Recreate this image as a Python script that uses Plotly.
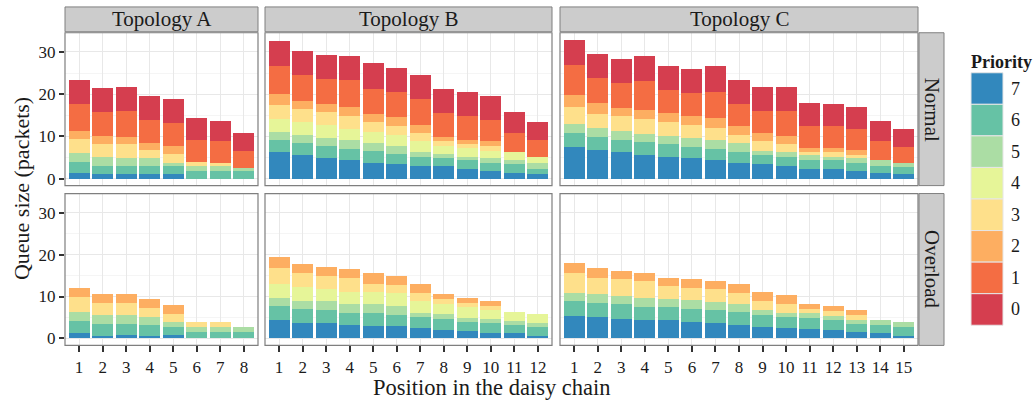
import plotly.graph_objects as go

# ---------------- data (segment heights, packets) ----------------
PRIORITIES = [7, 6, 5, 4, 3, 2, 1, 0]
COLORS = {0: "#D53E4F", 1: "#F46D43", 2: "#FDAE61", 3: "#FEE08B",
          4: "#E6F598", 5: "#ABDDA4", 6: "#66C2A5", 7: "#3288BD"}

POS_A = [1, 2, 3, 4, 5, 6, 7, 8]
POS_B = [1, 2, 3, 4, 5, 6, 7, 8, 9, 10, 11, 12]
POS_C = [1, 2, 3, 4, 5, 6, 7, 8, 9, 10, 11, 12, 13, 14, 15]

# Topology A - Normal
A_N_P7 = [1.3, 1.0, 1.0, 1.0, 1.0, 0, 0, 0]
A_N_P6 = [2.6, 2.1, 1.9, 1.9, 1.9, 1.9, 1.9, 1.7]
A_N_P5 = [2.1, 2.1, 2.1, 2.1, 0.9, 1.0, 1.0, 0.9]
A_N_P4 = [0, 0, 0, 0, 0, 0, 0, 0]
A_N_P3 = [3.5, 3.1, 3.3, 1.9, 2.1, 1.1, 0.9, 0]
A_N_P2 = [1.9, 1.9, 1.6, 1.6, 1.9, 0, 0, 0]
A_N_P1 = [6.3, 5.6, 6.1, 5.4, 5.4, 5.2, 5.1, 4.0]
A_N_P0 = [5.6, 5.6, 5.6, 5.6, 5.6, 5.1, 4.7, 4.2]

# Topology A - Overload
A_O_P7 = [1.2, 0.7, 0.9, 0.7, 0.9, 0, 0, 0]
A_O_P6 = [3.0, 2.8, 2.6, 2.6, 1.9, 1.6, 1.6, 1.6]
A_O_P5 = [2.1, 2.1, 2.1, 1.9, 1.2, 1.2, 1.2, 1.2]
A_O_P4 = [0, 0, 0, 0, 0, 0, 0, 0]
A_O_P3 = [3.5, 2.8, 2.8, 2.1, 1.9, 1.2, 1.2, 0]
A_O_P2 = [2.2, 2.1, 2.1, 2.1, 2.1, 0, 0, 0]
A_O_P1 = [0, 0, 0, 0, 0, 0, 0, 0]
A_O_P0 = [0, 0, 0, 0, 0, 0, 0, 0]

# Topology B - Normal
B_N_P7 = [6.2, 5.5, 4.8, 4.3, 3.8, 3.4, 3.1, 2.9, 2.2, 1.7, 1.3, 1.0]
B_N_P6 = [3.0, 3.0, 3.0, 2.8, 2.8, 2.5, 2.1, 1.9, 2.1, 1.9, 2.1, 1.4]
B_N_P5 = [1.9, 1.9, 1.9, 2.1, 1.9, 1.9, 1.0, 1.1, 0.9, 1.2, 0.9, 1.2]
B_N_P4 = [3.0, 3.0, 3.0, 2.6, 2.6, 2.6, 2.6, 1.9, 2.1, 1.8, 2.1, 1.6]
B_N_P3 = [3.3, 3.1, 3.1, 3.0, 2.3, 2.1, 1.9, 1.0, 1.0, 1.2, 0, 0]
B_N_P2 = [2.6, 1.9, 1.9, 2.2, 1.9, 2.1, 2.1, 1.1, 0.9, 1.0, 0, 0]
B_N_P1 = [6.6, 6.1, 6.0, 6.3, 5.9, 5.9, 6.1, 5.6, 5.6, 5.1, 4.5, 4.0]
B_N_P0 = [6.1, 5.8, 5.7, 5.8, 6.1, 5.6, 5.6, 5.7, 5.7, 5.6, 4.9, 4.2]

# Topology B - Overload
B_O_P7 = [4.5, 3.8, 3.8, 3.3, 3.0, 3.0, 2.6, 2.1, 1.9, 1.4, 1.2, 0.7]
B_O_P6 = [3.2, 3.2, 3.0, 2.8, 3.1, 2.6, 2.6, 2.6, 2.1, 2.4, 2.1, 2.1]
B_O_P5 = [1.9, 1.9, 2.1, 2.1, 2.1, 2.1, 0.9, 1.2, 0.9, 0.9, 0.9, 1.0]
B_O_P4 = [3.3, 3.3, 2.8, 3.0, 3.0, 3.1, 2.8, 2.3, 2.6, 2.1, 2.1, 2.1]
B_O_P3 = [4.0, 3.5, 3.3, 3.3, 1.9, 1.9, 1.9, 1.2, 0.9, 0.9, 0, 0]
B_O_P2 = [2.6, 2.1, 2.1, 2.1, 2.4, 2.1, 2.1, 1.1, 1.2, 1.2, 0, 0]
B_O_P1 = [0, 0, 0, 0, 0, 0, 0, 0, 0, 0, 0, 0]
B_O_P0 = [0, 0, 0, 0, 0, 0, 0, 0, 0, 0, 0, 0]

# Topology C - Normal
C_N_P7 = [7.6, 6.9, 6.4, 5.7, 5.2, 4.8, 4.3, 3.8, 3.4, 2.9, 2.4, 2.4, 1.7, 1.3, 1.0]
C_N_P6 = [3.3, 3.0, 2.8, 3.0, 3.1, 2.8, 2.8, 2.6, 2.3, 2.3, 1.9, 1.9, 1.9, 1.8, 1.7]
C_N_P5 = [2.1, 2.1, 2.1, 1.9, 1.9, 2.1, 2.1, 2.1, 0.9, 1.0, 1.2, 0.9, 1.2, 1.2, 0.9]
C_N_P4 = [0, 0, 0, 0, 0, 0, 0, 0, 0, 0, 0, 0, 0, 0, 0]
C_N_P3 = [4.0, 3.3, 3.5, 3.5, 3.2, 3.0, 2.8, 1.9, 2.2, 2.1, 0.9, 1.2, 0.9, 0, 0]
C_N_P2 = [2.8, 2.6, 1.9, 2.1, 2.1, 2.1, 2.4, 2.1, 1.9, 1.9, 0.9, 0.9, 1.2, 0, 0]
C_N_P1 = [7.2, 5.9, 5.9, 7.0, 5.4, 5.4, 6.1, 5.2, 5.4, 5.8, 5.2, 5.2, 4.9, 4.7, 4.0]
C_N_P0 = [5.9, 5.8, 5.8, 5.8, 5.7, 5.7, 6.1, 5.6, 5.6, 5.6, 5.4, 5.2, 5.2, 4.7, 4.2]

# Topology C - Overload
C_O_P7 = [5.4, 5.2, 4.7, 4.5, 4.5, 4.0, 3.8, 3.3, 2.8, 2.6, 2.3, 2.1, 1.6, 1.2, 0.7]
C_O_P6 = [3.5, 3.2, 3.5, 3.0, 3.0, 3.0, 3.0, 3.0, 2.8, 2.6, 2.6, 2.4, 1.9, 1.9, 2.1]
C_O_P5 = [1.9, 2.1, 1.9, 2.1, 1.9, 2.1, 1.9, 1.9, 1.2, 0.9, 1.2, 0.9, 1.0, 1.2, 1.2]
C_O_P4 = [0, 0, 0, 0, 0, 0, 0, 0, 0, 0, 0, 0, 0, 0, 0]
C_O_P3 = [4.7, 4.0, 4.0, 4.0, 3.0, 2.9, 3.0, 2.6, 2.1, 2.1, 0.9, 1.2, 1.1, 0, 0]
C_O_P2 = [2.5, 2.4, 2.1, 2.1, 2.1, 2.1, 2.1, 2.1, 2.1, 2.1, 1.2, 1.1, 1.2, 0, 0]
C_O_P1 = [0, 0, 0, 0, 0, 0, 0, 0, 0, 0, 0, 0, 0, 0, 0]
C_O_P0 = [0, 0, 0, 0, 0, 0, 0, 0, 0, 0, 0, 0, 0, 0, 0]

TOPOLOGIES = ["Topology A", "Topology B", "Topology C"]
CONDITIONS = ["Normal", "Overload"]
Y_TICKS = [0, 10, 20, 30]
X_TITLE = "Position in the daisy chain"
Y_TITLE = "Queue size (packets)"
LEGEND_TITLE = "Priority"

# ---------------- assemble panels ----------------
g = globals()
positions = {"A": POS_A, "B": POS_B, "C": POS_C}
panels = []
for r, cond in enumerate(["N", "O"]):
    for c, topo in enumerate(["A", "B", "C"]):
        series = {p: g[f"{topo}_{cond}_P{p}"] for p in PRIORITIES}
        panels.append((r, c, positions[topo], series))

# ---------------- layout geometry (pixels) ----------------
W, H = 1036, 401
FONT = "Liberation Serif"
TXT = "#1a1a1a"
col_x = [(65, 258), (265, 552), (560, 918)]
row_y = [(33, 187), (195, 348)]
strip_top = (7, 32)
strip_right = (919, 944)


def px(x):
    return x / W


def py(y):
    return 1 - y / H


fig = go.Figure()
layout = dict(
    width=W, height=H,
    margin=dict(l=0, r=0, t=0, b=0),
    paper_bgcolor="white", plot_bgcolor="white",
    barmode="stack", bargap=0.1, showlegend=False,
    font=dict(family=FONT, color=TXT),
)

for k, (r, c, pos, series) in enumerate(panels, start=1):
    xa = "x" if k == 1 else f"x{k}"
    ya = "y" if k == 1 else f"y{k}"
    for p in PRIORITIES:
        fig.add_trace(go.Bar(
            x=pos, y=series[p], width=0.9,
            marker=dict(color=COLORS[p], line=dict(width=0)),
            xaxis=xa, yaxis=ya, name=str(p), hoverinfo="skip",
        ))
    n = len(pos)
    bottom = (r == 1)
    left = (c == 0)
    layout["xaxis" if k == 1 else f"xaxis{k}"] = dict(
        domain=[px(col_x[c][0]), px(col_x[c][1])],
        anchor=ya, range=[0.4, n + 0.6],
        tickvals=pos, ticktext=[str(v) for v in pos],
        showticklabels=bottom, ticks="outside" if bottom else "",
        ticklen=6, tickwidth=1.6, tickcolor="#333333",
        tickfont=dict(family=FONT, size=17, color=TXT),
        showgrid=True, gridcolor="#E8E8E8", gridwidth=1,
        zeroline=False, showline=False, fixedrange=True,
    )
    layout["yaxis" if k == 1 else f"yaxis{k}"] = dict(
        domain=[py(row_y[r][1]), py(row_y[r][0])],
        anchor=xa, range=[-1.645, 34.55],
        tickvals=Y_TICKS, ticktext=[str(v) for v in Y_TICKS],
        showticklabels=left, ticks="outside" if left else "",
        ticklen=5, tickwidth=1.6, tickcolor="#333333",
        tickfont=dict(family=FONT, size=17, color=TXT),
        showgrid=True, gridcolor="#E8E8E8", gridwidth=1,
        minor=dict(tickvals=[5, 15, 25], showgrid=True, gridcolor="#F5F5F5",
                   gridwidth=1, ticks=""),
        zeroline=False, showline=False, fixedrange=True,
    )

fig.update_layout(**layout)

shapes = []
annotations = []
# panel borders
for (x0, x1) in col_x:
    for (y0, y1) in row_y:
        shapes.append(dict(type="rect", xref="paper", yref="paper",
                           x0=px(x0), x1=px(x1), y0=py(y1), y1=py(y0),
                           line=dict(color="#7F7F7F", width=1.2),
                           fillcolor="rgba(0,0,0,0)", layer="above"))
# top strips
for (x0, x1), name in zip(col_x, TOPOLOGIES):
    shapes.append(dict(type="rect", xref="paper", yref="paper",
                       x0=px(x0), x1=px(x1), y0=py(strip_top[1]), y1=py(strip_top[0]),
                       line=dict(color="#7F7F7F", width=1), fillcolor="#CCCCCC"))
    annotations.append(dict(text=name, xref="paper", yref="paper",
                            x=px((x0 + x1) / 2), y=py((strip_top[0] + strip_top[1]) / 2),
                            showarrow=False, xanchor="center", yanchor="middle",
                            font=dict(family=FONT, size=21, color=TXT)))
# right strips
for (y0, y1), name in zip(row_y, CONDITIONS):
    shapes.append(dict(type="rect", xref="paper", yref="paper",
                       x0=px(strip_right[0]), x1=px(strip_right[1]), y0=py(y1), y1=py(y0),
                       line=dict(color="#7F7F7F", width=1), fillcolor="#CCCCCC"))
    annotations.append(dict(text=name, xref="paper", yref="paper",
                            x=px((strip_right[0] + strip_right[1]) / 2),
                            y=py((y0 + y1) / 2), textangle=90,
                            showarrow=False, xanchor="center", yanchor="middle",
                            font=dict(family=FONT, size=21, color=TXT)))
# axis titles
annotations.append(dict(text=X_TITLE, xref="paper", yref="paper",
                        x=px((col_x[0][0] + col_x[2][1]) / 2), y=py(390),
                        showarrow=False, xanchor="center", yanchor="middle",
                        font=dict(family=FONT, size=22.5, color=TXT)))
annotations.append(dict(text=Y_TITLE, xref="paper", yref="paper",
                        x=px(21), y=py((row_y[0][0] + row_y[1][1]) / 2),
                        textangle=-90, showarrow=False,
                        xanchor="center", yanchor="middle",
                        font=dict(family=FONT, size=22, color=TXT)))
# legend (drawn manually, ggplot style)
annotations.append(dict(text="<b>" + LEGEND_TITLE + "</b>", xref="paper", yref="paper",
                        x=px(969), y=py(62), showarrow=False,
                        xanchor="left", yanchor="middle",
                        font=dict(family=FONT, size=18, color=TXT)))
key_top, key_h = 73.3, 31.8
for i, p in enumerate(PRIORITIES):
    y0 = key_top + i * key_h
    shapes.append(dict(type="rect", xref="paper", yref="paper",
                       x0=px(971), x1=px(1003), y0=py(y0 + key_h), y1=py(y0),
                       line=dict(color="#E6E6E6", width=1), fillcolor=COLORS[p]))
    annotations.append(dict(text=str(p), xref="paper", yref="paper",
                            x=px(1009), y=py(y0 + key_h / 2),
                            showarrow=False, xanchor="left", yanchor="middle",
                            font=dict(family=FONT, size=18, color=TXT)))

fig.update_layout(shapes=shapes, annotations=annotations)
fig.write_html("out.html", config={"displayModeBar": False},
               post_script="document.body.style.margin='0';document.body.style.overflow='hidden';")
